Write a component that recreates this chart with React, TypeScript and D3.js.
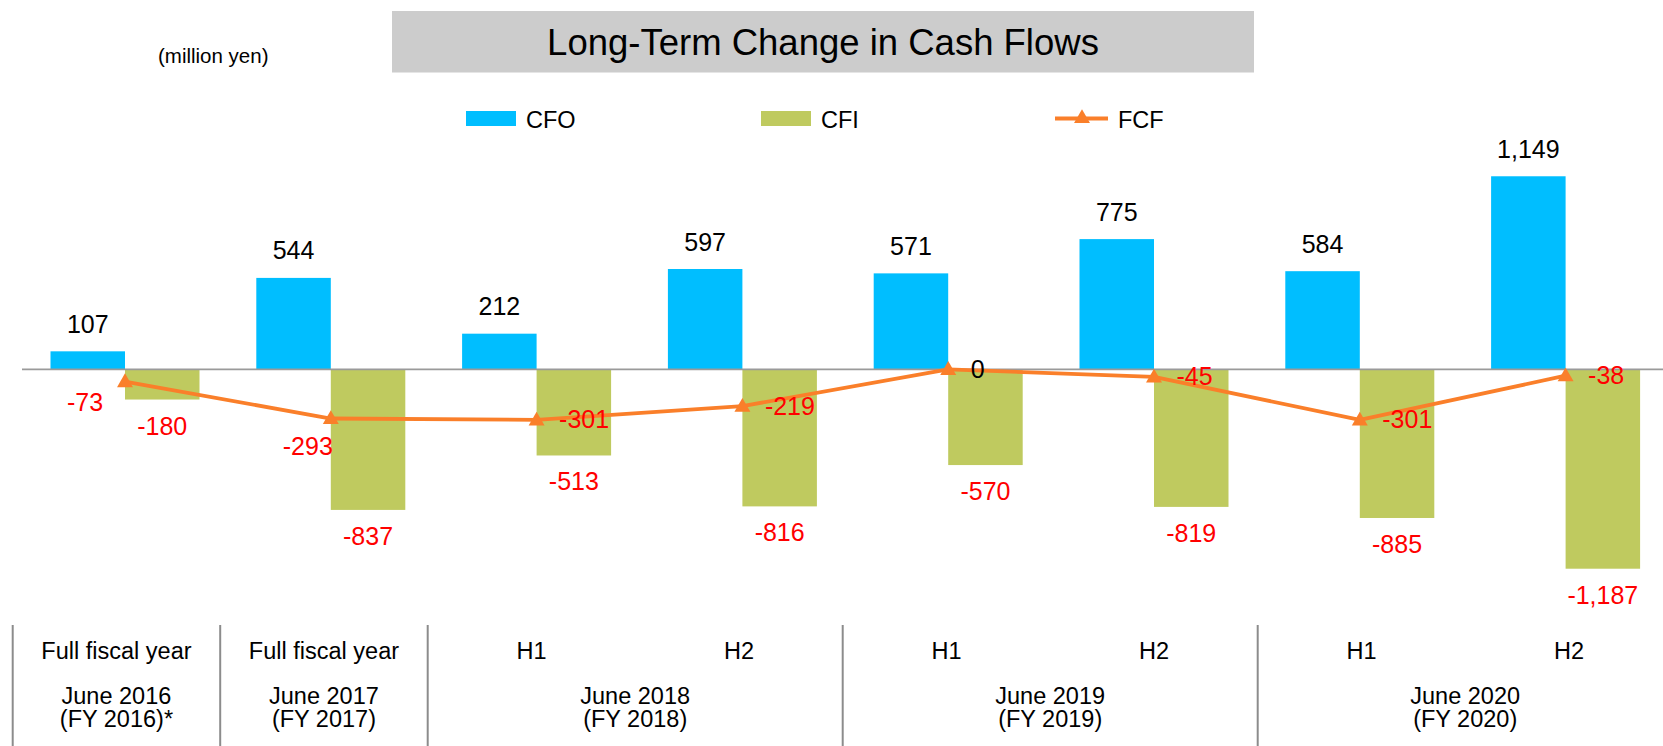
import React from "react";
import * as d3 from "d3";

// ---- data ----
const categories = ["FY2016", "FY2017", "FY2018 H1", "FY2018 H2", "FY2019 H1", "FY2019 H2", "FY2020 H1", "FY2020 H2"];
const cfo = [107, 544, 212, 597, 571, 775, 584, 1149];
const cfi = [-180, -837, -513, -816, -570, -819, -885, -1187];
const fcf = [-73, -293, -301, -219, 0, -45, -301, -38];
const periodLabels = ["Full fiscal year", "Full fiscal year", "H1", "H2", "H1", "H2", "H1", "H2"];
const groupLine1 = ["June 2016", "June 2017", "June 2018", "June 2019", "June 2020"];
const groupLine2 = ["(FY 2016)*", "(FY 2017)", "(FY 2018)", "(FY 2019)", "(FY 2020)"];
const groupSpans = [1, 1, 2, 2, 2];
const legendItems = ["CFO", "CFI", "FCF"];

// ---- style ----
const W = 1663;
const H = 746;
const FONT = "'Liberation Sans', Arial, Helvetica, sans-serif";
const C_CFO = "#00BEFF";
const C_CFI = "#BFCA5F";
const C_FCF = "#FA7F2A";
const C_RED = "#FF0000";
const GRID = "#9A9A9A";

const fmt = d3.formatLocale({ decimal: ".", thousands: ",", grouping: [3], currency: ["", ""], minus: "-" }).format(",");

// label placement for the FCF labels (relative to each point)
const fcfLabelPlacement: [number, number, string][] = [
  [-40, 29.5, "middle"],
  [-23, 36.5, "middle"],
  [22.5, 8.5, "start"],
  [22.5, 8.5, "start"],
  [22.5, 8.5, "start"],
  [22.5, 8.5, "start"],
  [22.5, 8.5, "start"],
  [22.5, 8.5, "start"],
];

export default function App() {
  const zeroY = 369.3;
  const k = 0.168;
  const y = d3.scaleLinear().domain([-1200, 1200]).range([zeroY + 1200 * k, zeroY - 1200 * k]);

  const x = d3.scaleBand<string>().domain(categories).range([22.1, 22.1 + 8 * 205.8]).paddingInner(0.276).paddingOuter(0.138);
  const sub = d3.scaleBand<string>().domain(["CFO", "CFI"]).range([0, x.bandwidth()]);

  // category table below
  const slotIdx = d3.range(8).map(String);
  const t = d3.scaleBand<string>().domain(slotIdx).range([12.7, 12.7 + 8 * 207.5]);
  const slotStart = (i: number) => (i < 8 ? (t(String(i)) as number) : (t("7") as number) + t.bandwidth());

  const groupStarts: number[] = [];
  groupSpans.reduce((acc, s) => {
    groupStarts.push(acc);
    return acc + s;
  }, 0);
  const separators = [...groupStarts, 8];

  const centerX = (i: number) => (x(categories[i]) as number) + x.bandwidth() / 2;

  const line = d3
    .line<number>()
    .x((_, i) => centerX(i))
    .y((d) => y(d));

  const tri = d3.symbol().type(d3.symbolTriangle).size(110);

  const legendX0 = 466;
  const legendStep = 295;

  return (
    <svg width={W} height={H} style={{ position: "absolute", left: 0, top: 0, background: "#fff" }} fontFamily={FONT}>
      {/* title */}
      <rect x={392} y={11} width={862} height={61.5} fill="#CCCCCC" />
      <text x={823} y={55} fontSize={36.5} textAnchor="middle" fill="#000">
        Long-Term Change in Cash Flows
      </text>
      <text x={158} y={63} fontSize={20.5} fill="#000">
        (million yen)
      </text>

      {/* legend */}
      {legendItems.map((name, i) => {
        const lx = legendX0 + i * legendStep;
        return (
          <g key={name}>
            {name === "FCF" ? (
              <g>
                <line x1={lx - 1} x2={lx + 52} y1={118.5} y2={118.5} stroke={C_FCF} strokeWidth={3.8} />
                <path d={tri() as string} transform={`translate(${lx + 26},${118.5})`} fill={C_FCF} />
              </g>
            ) : (
              <rect x={lx} y={111} width={50} height={15} fill={name === "CFO" ? C_CFO : C_CFI} />
            )}
            <text x={lx + (name === "FCF" ? 62 : 60)} y={128} fontSize={23.5} fill="#000">
              {name}
            </text>
          </g>
        );
      })}

      {/* bars */}
      {categories.map((c, i) => {
        const bx = x(c) as number;
        const cfoX = bx + (sub("CFO") as number);
        const cfiX = bx + (sub("CFI") as number);
        return (
          <g key={c}>
            <rect x={cfoX} y={y(cfo[i])} width={sub.bandwidth()} height={y(0) - y(cfo[i])} fill={C_CFO} />
            <rect x={cfiX} y={y(0)} width={sub.bandwidth()} height={y(cfi[i]) - y(0)} fill={C_CFI} />
          </g>
        );
      })}

      {/* zero axis */}
      <line x1={22} x2={W} y1={y(0)} y2={y(0)} stroke={GRID} strokeWidth={1.8} />

      {/* bar labels */}
      {categories.map((c, i) => {
        const bx = x(c) as number;
        const cfoC = bx + (sub("CFO") as number) + sub.bandwidth() / 2;
        const cfiC = bx + (sub("CFI") as number) + sub.bandwidth() / 2;
        return (
          <g key={"l" + c} fontSize={25}>
            <text x={cfoC} y={y(cfo[i]) - 18.5} textAnchor="middle" fill="#000">
              {fmt(cfo[i])}
            </text>
            <text x={cfiC} y={y(cfi[i]) + 35} textAnchor="middle" fill={C_RED}>
              {fmt(cfi[i])}
            </text>
          </g>
        );
      })}

      {/* FCF line */}
      <path d={line(fcf) as string} fill="none" stroke={C_FCF} strokeWidth={3.8} strokeLinejoin="round" />
      {fcf.map((v, i) => (
        <path key={"m" + i} d={tri() as string} transform={`translate(${centerX(i)},${y(v) + 1})`} fill={C_FCF} />
      ))}
      {fcf.map((v, i) => {
        const [dx, dy, anchor] = fcfLabelPlacement[i];
        return (
          <text
            key={"f" + i}
            x={centerX(i) + dx}
            y={y(v) + dy}
            fontSize={25}
            textAnchor={anchor as any}
            fill={v === 0 ? "#000" : C_RED}
          >
            {fmt(v)}
          </text>
        );
      })}

      {/* category table */}
      {separators.map((s, i) => (
        <line key={"s" + i} x1={slotStart(s)} x2={slotStart(s)} y1={625} y2={H} stroke="#8C8C8C" strokeWidth={2} />
      ))}
      {periodLabels.map((p, i) => (
        <text key={"p" + i} x={(t(String(i)) as number) + t.bandwidth() / 2} y={659} fontSize={23.5} textAnchor="middle" fill="#000">
          {p}
        </text>
      ))}
      {groupLine1.map((g, i) => {
        const cx = (slotStart(groupStarts[i]) + slotStart(groupStarts[i] + groupSpans[i])) / 2;
        return (
          <g key={"g" + i} fontSize={23.5} textAnchor="middle" fill="#000">
            <text x={cx} y={704}>
              {g}
            </text>
            <text x={cx} y={727}>
              {groupLine2[i]}
            </text>
          </g>
        );
      })}
    </svg>
  );
}
